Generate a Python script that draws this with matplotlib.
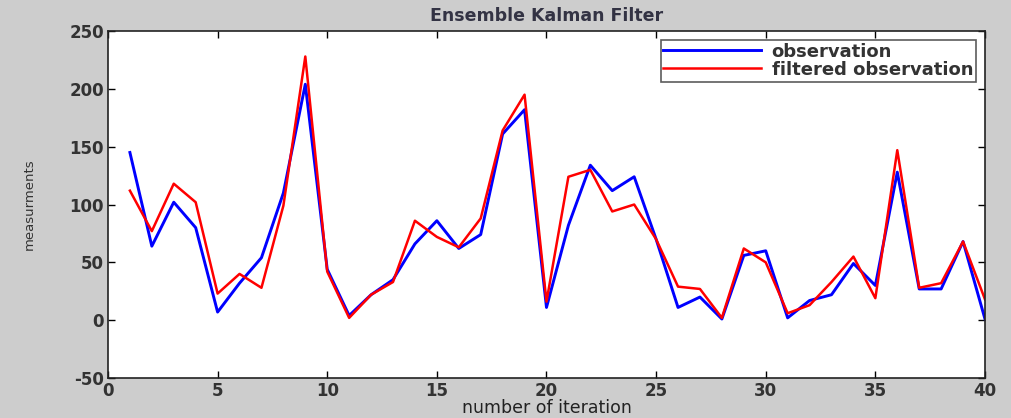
import matplotlib
matplotlib.use("Agg")
import matplotlib.pyplot as plt

plt.rcParams["axes.unicode_minus"] = False

iterations = list(range(1, 41))
observation = [145, 64, 102, 80, 7, 32, 54, 110, 204, 44,
               4, 22, 35, 66, 86, 62, 74, 161, 182, 11,
               82, 134, 112, 124, 70, 11, 20, 1, 56, 60,
               2, 17, 22, 49, 30, 128, 27, 27, 68, 1]
filtered = [112, 77, 118, 102, 23, 40, 28, 99, 228, 42,
            2, 22, 33, 86, 72, 63, 88, 164, 195, 16,
            124, 130, 94, 100, 70, 29, 27, 2, 62, 50,
            6, 13, 33, 55, 19, 147, 28, 32, 68, 18]

xticks = [0, 5, 10, 15, 20, 25, 30, 35, 40]
yticks = [-50, 0, 50, 100, 150, 200, 250]

fig = plt.figure(figsize=(10.12, 4.18), dpi=100)
fig.patch.set_facecolor("#cdcdcd")
ax = fig.add_axes([0.1067, 0.0957, 0.8666, 0.830])
ax.set_facecolor("white")

ax.plot(iterations, observation, color="#0000ff", lw=2.1, label="observation")
ax.plot(iterations, filtered, color="#ff0000", lw=1.8, label="filtered observation")

ax.set_xlim(0, 40)
ax.set_ylim(-50, 250)
ax.set_xticks(xticks)
ax.set_yticks(yticks)
ax.tick_params(direction="in", top=True, right=True, length=5, width=1,
               labelsize=12, labelcolor="#333333", pad=3)
for lab in ax.get_xticklabels() + ax.get_yticklabels():
    lab.set_fontweight("bold")
for sp in ax.spines.values():
    sp.set_linewidth(1.2)
    sp.set_color("#222222")

ax.set_title("Ensemble Kalman Filter", fontsize=12.5, fontweight="bold",
             color="#333344", pad=7)
ax.set_xlabel("number of iteration", fontsize=12.5, color="#222222", labelpad=-1)
ax.set_ylabel("measurments", fontsize=9.5, color="#333333", labelpad=24)

leg = ax.legend(loc="upper right", fontsize=13, frameon=True, fancybox=False,
                edgecolor="#333333", handlelength=5.4, handletextpad=0.6,
                borderpad=0.15, labelspacing=0.0, borderaxespad=0.5)
leg.get_frame().set_linewidth(1.2)
for t in leg.get_texts():
    t.set_color("#333333")
    t.set_fontweight("bold")

fig.savefig("out.png", dpi=100, facecolor=fig.get_facecolor())
